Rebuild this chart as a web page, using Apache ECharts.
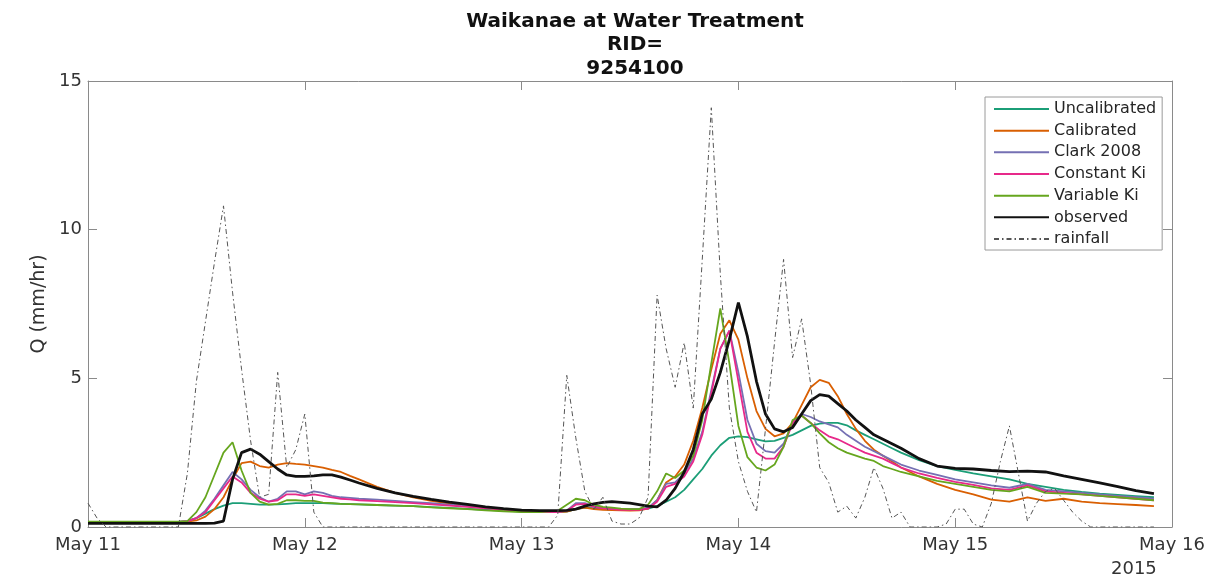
<!DOCTYPE html>
<html>
<head>
<meta charset="utf-8">
<script src="https://cdn.jsdelivr.net/npm/echarts@6/dist/echarts.min.js"></script>
<style>
html,body{margin:0;padding:0;background:#fff;}
#chart{width:1230px;height:580px;}
</style>
</head>
<body>
<div id="chart"></div>
<script>
// ---- data ----
const titleLines = ['Waikanae at Water Treatment', 'RID=', '9254100'];
const dayLabels = ['May 11', 'May 12', 'May 13', 'May 14', 'May 15', 'May 16'];
const yearLabel = '2015';
const yTicks = [0, 5, 10, 15];
const seriesNames = ['Uncalibrated', 'Calibrated', 'Clark 2008', 'Constant Ki', 'Variable Ki', 'observed', 'rainfall'];

// hours since May 11 00:00 for modelled / observed flow
const hoursQ = [0,2,4,6,8,10,
  11,12,13,14,15,16,17,18,19,20,21,22,23,24,25,26,27,28,29,30,
  32,34,36,38,40,42,44,46,48,50,52,
  53,54,55,56,57,58,59,60,61,62,63,64,65,66,67,68,69,70,71,72,73,74,75,76,77,78,79,80,81,82,83,84,85,86,87,88,89,90,
  92,94,96,98,100,102,104,106,108,110,112,114,116,118];

const uncalibrated = [0.17,0.17,0.17,0.17,0.17,0.17,
  0.2,0.3,0.45,0.6,0.72,0.8,0.8,0.78,0.75,0.75,0.76,0.78,0.8,0.8,0.8,0.8,0.79,0.78,0.77,0.76,
  0.74,0.72,0.7,0.67,0.64,0.61,0.58,0.55,0.52,0.5,0.5,
  0.52,0.6,0.65,0.63,0.6,0.6,0.6,0.6,0.6,0.62,0.7,0.85,1.0,1.25,1.6,1.95,2.4,2.75,3.0,3.05,3.02,2.95,2.88,2.9,3.0,3.1,3.25,3.4,3.48,3.5,3.5,3.42,3.25,3.1,2.95,2.8,2.65,2.5,
  2.25,2.05,1.92,1.8,1.7,1.6,1.45,1.35,1.25,1.18,1.12,1.08,1.04,1.0];

const calibrated = [0.17,0.17,0.17,0.17,0.17,0.17,
  0.18,0.22,0.35,0.6,1.0,1.6,2.15,2.2,2.05,2.0,2.1,2.15,2.12,2.1,2.05,2.0,1.92,1.85,1.72,1.6,
  1.35,1.15,1.0,0.88,0.79,0.72,0.66,0.6,0.56,0.52,0.5,
  0.52,0.6,0.65,0.6,0.58,0.57,0.56,0.55,0.56,0.62,0.9,1.5,1.7,2.1,2.9,4.0,5.3,6.5,6.95,6.3,5.0,3.9,3.3,3.05,3.15,3.5,4.1,4.7,4.95,4.85,4.4,3.8,3.3,2.9,2.6,2.4,2.2,2.0,
  1.7,1.45,1.25,1.1,0.92,0.85,1.0,0.88,0.95,0.85,0.8,0.77,0.74,0.7];

const clark2008 = [0.17,0.17,0.17,0.17,0.17,0.17,
  0.2,0.3,0.55,0.95,1.4,1.85,1.6,1.25,1.0,0.85,0.95,1.2,1.2,1.1,1.2,1.15,1.05,1.0,0.98,0.95,
  0.92,0.88,0.84,0.8,0.75,0.7,0.65,0.6,0.55,0.52,0.5,
  0.55,0.8,0.8,0.7,0.65,0.62,0.6,0.6,0.6,0.65,0.9,1.45,1.5,1.8,2.3,3.2,4.6,6.0,6.6,5.2,3.6,2.8,2.55,2.5,2.8,3.5,3.8,3.7,3.55,3.45,3.35,3.1,2.9,2.7,2.55,2.4,2.25,2.1,
  1.9,1.75,1.6,1.5,1.4,1.32,1.45,1.25,1.2,1.15,1.1,1.05,1.0,0.95];

const constantKi = [0.17,0.17,0.17,0.17,0.17,0.17,
  0.2,0.3,0.5,0.9,1.3,1.7,1.5,1.15,0.95,0.85,0.9,1.1,1.1,1.05,1.1,1.05,1.0,0.95,0.93,0.9,
  0.87,0.84,0.8,0.76,0.72,0.68,0.63,0.58,0.54,0.51,0.5,
  0.55,0.75,0.78,0.68,0.63,0.6,0.58,0.58,0.58,0.62,0.85,1.35,1.45,1.7,2.2,3.1,4.5,6.0,6.6,4.9,3.2,2.5,2.3,2.3,2.7,3.5,3.75,3.5,3.25,3.05,2.95,2.8,2.65,2.5,2.4,2.3,2.15,2.0,
  1.8,1.65,1.52,1.42,1.3,1.25,1.4,1.2,1.15,1.1,1.05,1.0,0.95,0.9];

const variableKi = [0.18,0.18,0.18,0.18,0.18,0.18,
  0.2,0.5,1.0,1.75,2.5,2.85,1.9,1.15,0.85,0.75,0.78,0.9,0.9,0.88,0.88,0.82,0.8,0.78,0.77,0.76,
  0.74,0.72,0.7,0.66,0.63,0.6,0.56,0.53,0.5,0.5,0.55,
  0.75,0.95,0.9,0.75,0.68,0.65,0.62,0.6,0.6,0.75,1.2,1.8,1.65,1.9,2.4,3.6,5.5,7.35,5.5,3.4,2.35,2.0,1.9,2.1,2.7,3.6,3.75,3.5,3.15,2.85,2.65,2.5,2.4,2.3,2.22,2.05,1.95,1.85,
  1.7,1.55,1.45,1.35,1.25,1.2,1.35,1.15,1.12,1.1,1.05,1.0,0.95,0.9];

const observed = [0.12,0.12,0.12,0.12,0.12,0.12,
  0.12,0.12,0.12,0.13,0.2,1.6,2.5,2.62,2.45,2.2,1.95,1.75,1.7,1.7,1.72,1.75,1.75,1.68,1.58,1.48,
  1.3,1.15,1.03,0.93,0.84,0.76,0.68,0.62,0.57,0.55,0.55,
  0.56,0.6,0.7,0.78,0.83,0.85,0.83,0.8,0.75,0.7,0.68,0.9,1.3,1.85,2.6,3.8,4.3,5.2,6.3,7.55,6.4,4.9,3.8,3.3,3.2,3.35,3.8,4.25,4.45,4.4,4.15,3.9,3.6,3.35,3.1,2.95,2.8,2.65,
  2.3,2.05,1.97,1.95,1.9,1.86,1.88,1.85,1.72,1.6,1.48,1.36,1.22,1.12];

// hourly rainfall, hours 0..118
const rainfall = [0.8,0.3,0,0,0,0,0,0,0,0,0,1.8,4.9,6.9,8.9,10.8,7.9,5.3,2.9,1.0,
  1.1,5.2,2.0,2.6,3.8,0.5,0,0,0,0,0,0,0,0,0,0,0,0,0,0,
  0,0,0,0,0,0,0,0,0,0,0,0,0.4,5.1,3.0,1.2,0.6,1.0,0.2,0.1,
  0.1,0.3,1.0,7.8,6.0,4.7,6.2,4.0,9.0,14.1,8.5,4.0,2.2,1.2,0.5,3.3,6.2,9.0,5.7,7.0,
  4.8,2.0,1.5,0.5,0.7,0.3,1.0,2.0,1.3,0.3,0.5,0,0,0,0,0.1,0.6,0.6,0.1,0,
  0.8,2.2,3.4,1.8,0.2,0.8,1.2,1.3,0.9,0.5,0.2,0,0,0,0,0,0,0,0];

// ---- chart ----
const FONT = 'DejaVu Sans';
const colors = ['#1b9e77', '#d95f02', '#7570b3', '#e7298a', '#66a61e', '#111111', '#555555'];
const qSeries = [uncalibrated, calibrated, clark2008, constantKi, variableKi, observed];

const series = qSeries.map((vals, i) => ({
  name: seriesNames[i],
  type: 'line',
  symbol: 'none',
  showSymbol: false,
  silent: true,
  z: 2 + i,
  data: hoursQ.map((h, k) => [h, vals[k]]),
  lineStyle: { color: colors[i], width: i === 5 ? 2.8 : 1.8 },
  itemStyle: { color: colors[i] }
}));
series.push({
  name: seriesNames[6],
  type: 'line',
  symbol: 'none',
  showSymbol: false,
  silent: true,
  z: 10,
  data: rainfall.map((v, h) => [h, v]),
  lineStyle: { color: colors[6], width: 1, type: [5, 3, 1.5, 3] },
  itemStyle: { color: colors[6] }
});

const axisLineStyle = { color: '#8a8a8a', width: 1 };
const chart = echarts.init(document.getElementById('chart'), null, { renderer: 'canvas' });
chart.setOption({
  animation: false,
  backgroundColor: '#fff',
  textStyle: { fontFamily: FONT },
  title: {
    text: titleLines.join('\n'),
    left: 630,
    top: 5,
    textAlign: 'center',
    textStyle: { fontFamily: FONT, fontSize: 20, fontWeight: 'bold', color: '#111', lineHeight: 23.5 }
  },
  legend: {
    orient: 'vertical',
    left: 985,
    top: 97,
    padding: [4, 6, 3, 8],
    itemWidth: 55,
    itemHeight: 16,
    itemGap: 5.67,
    borderColor: '#9a9a9a',
    borderWidth: 1,
    backgroundColor: '#fff',
    selectedMode: false,
    itemStyle: { opacity: 0, borderWidth: 0 },
    data: seriesNames,
    textStyle: { fontFamily: FONT, fontSize: 16, color: '#262626', lineHeight: 16 }
  },
  grid: { left: 88, right: 58, top: 81, bottom: 53, containLabel: false },
  xAxis: [{
    type: 'value', min: 0, max: 120, interval: 24,
    axisLine: { show: true, onZero: false, lineStyle: axisLineStyle },
    axisTick: { show: true, inside: true, length: 9, lineStyle: axisLineStyle },
    splitLine: { show: false },
    axisLabel: {
      fontFamily: FONT, fontSize: 18, color: '#333', margin: 9,
      formatter: v => dayLabels[Math.round(v / 24)]
    }
  }, {
    type: 'value', min: 0, max: 120, interval: 24, position: 'top',
    axisLine: { show: true, onZero: false, lineStyle: axisLineStyle },
    axisTick: { show: true, inside: true, length: 9, lineStyle: axisLineStyle },
    splitLine: { show: false },
    axisLabel: { show: false }
  }],
  yAxis: [{
    type: 'value', min: 0, max: 15, interval: 5,
    name: 'Q (mm/hr)',
    nameLocation: 'middle',
    nameGap: 38,
    nameRotate: 90,
    nameTextStyle: { fontFamily: FONT, fontSize: 19, color: '#333' },
    axisLine: { show: true, onZero: false, lineStyle: axisLineStyle },
    axisTick: { show: true, inside: true, length: 9, lineStyle: axisLineStyle },
    splitLine: { show: false },
    axisLabel: {
      fontFamily: FONT, fontSize: 18, color: '#333', margin: 6,
      formatter: v => (yTicks.indexOf(v) >= 0 ? String(v) : '')
    }
  }, {
    type: 'value', min: 0, max: 15, interval: 5, position: 'right',
    axisLine: { show: true, onZero: false, lineStyle: axisLineStyle },
    axisTick: { show: true, inside: true, length: 9, lineStyle: axisLineStyle },
    splitLine: { show: false },
    axisLabel: { show: false }
  }],
  graphic: [{
    type: 'text',
    left: 1111,
    top: 560,
    style: { text: yearLabel, font: '18px "DejaVu Sans"', fill: '#333' }
  }],
  series: series
});
</script>
</body>
</html>
